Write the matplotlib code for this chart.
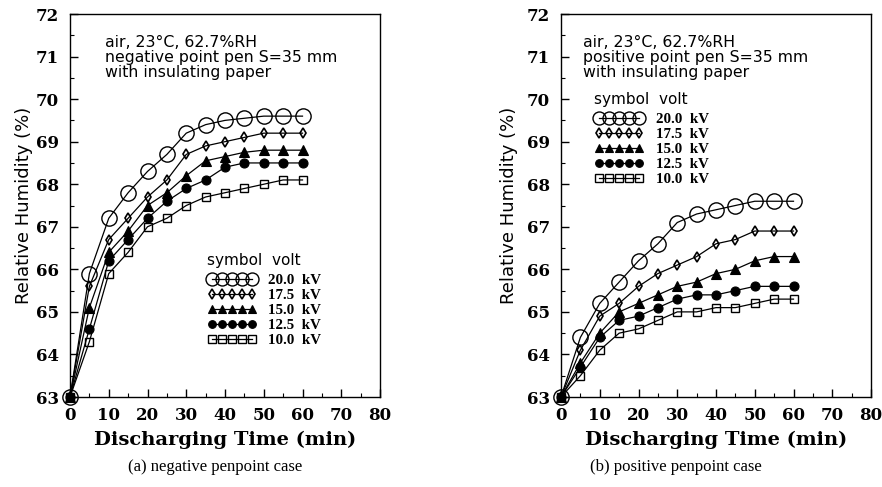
import matplotlib
matplotlib.use("Agg")
import matplotlib.pyplot as plt
from matplotlib.ticker import MultipleLocator

# ---------------- data ----------------
time_min = [0, 5, 10, 15, 20, 25, 30, 35, 40, 45, 50, 55, 60]
voltages = ["20.0", "17.5", "15.0", "12.5", "10.0"]

# (a) negative penpoint
neg_20_0 = [63.0, 65.9, 67.2, 67.8, 68.3, 68.7, 69.2, 69.4, 69.5, 69.55, 69.6, 69.6, 69.6]
neg_17_5 = [63.0, 65.6, 66.7, 67.2, 67.7, 68.1, 68.7, 68.9, 69.0, 69.1, 69.2, 69.2, 69.2]
neg_15_0 = [63.0, 65.1, 66.4, 66.9, 67.5, 67.8, 68.2, 68.55, 68.65, 68.75, 68.8, 68.8, 68.8]
neg_12_5 = [63.0, 64.6, 66.2, 66.7, 67.2, 67.6, 67.9, 68.1, 68.4, 68.5, 68.5, 68.5, 68.5]
neg_10_0 = [63.0, 64.3, 65.9, 66.4, 67.0, 67.2, 67.5, 67.7, 67.8, 67.9, 68.0, 68.1, 68.1]

# (b) positive penpoint
pos_20_0 = [63.0, 64.4, 65.2, 65.7, 66.2, 66.6, 67.1, 67.3, 67.4, 67.5, 67.6, 67.6, 67.6]
pos_17_5 = [63.0, 64.1, 64.9, 65.2, 65.6, 65.9, 66.1, 66.3, 66.6, 66.7, 66.9, 66.9, 66.9]
pos_15_0 = [63.0, 63.8, 64.5, 65.0, 65.2, 65.4, 65.6, 65.7, 65.9, 66.0, 66.2, 66.3, 66.3]
pos_12_5 = [63.0, 63.7, 64.4, 64.8, 64.9, 65.1, 65.3, 65.4, 65.4, 65.5, 65.6, 65.6, 65.6]
pos_10_0 = [63.0, 63.5, 64.1, 64.5, 64.6, 64.8, 65.0, 65.0, 65.1, 65.1, 65.2, 65.3, 65.3]

neg_series = [neg_20_0, neg_17_5, neg_15_0, neg_12_5, neg_10_0]
pos_series = [pos_20_0, pos_17_5, pos_15_0, pos_12_5, pos_10_0]

ann_neg = ["air, 23°C, 62.7%RH", "negative point pen S=35 mm", "with insulating paper"]
ann_pos = ["air, 23°C, 62.7%RH", "positive point pen S=35 mm", "with insulating paper"]
caption_a = "(a) negative penpoint case"
caption_b = "(b) positive penpoint case"

# ---------------- styles ----------------
styles = [
    dict(marker="o", markersize=11, markerfacecolor="none", markeredgewidth=1.0),
    dict(marker="d", markersize=5.5, markerfacecolor="none", markeredgewidth=1.2),
    dict(marker="^", markersize=6.5, markerfacecolor="black", markeredgewidth=0.8),
    dict(marker="o", markersize=6.5, markerfacecolor="black", markeredgewidth=0.8),
    dict(marker="s", markersize=6, markerfacecolor="none", markeredgewidth=1.0),
]

serif_bold = dict(family="DejaVu Serif", weight="bold")
sans = dict(family="DejaVu Sans")

fig = plt.figure(figsize=(8.82, 4.87), dpi=100)
W, H = 882, 487

def make_axes(x0, series, ann, legend_xy, ann_xy, ylab_dx):
    ax = fig.add_axes([x0 / W, (H - 397) / H, 310 / W, 383 / H])
    handles = []
    for vals, st, v in zip(series, styles, voltages):
        h, = ax.plot(time_min, vals, color="black", lw=0.9,
                     markeredgecolor="black", clip_on=False,
                     label=f"{v}  kV", **st)
        handles.append(h)
    ax.set_xlim(0, 80)
    ax.set_ylim(63, 72)
    ax.xaxis.set_major_locator(MultipleLocator(10))
    ax.xaxis.set_minor_locator(MultipleLocator(5))
    ax.yaxis.set_major_locator(MultipleLocator(1))
    ax.yaxis.set_minor_locator(MultipleLocator(0.5))
    ax.tick_params(which="both", direction="in", top=False, right=False)
    ax.tick_params(which="major", length=6, width=1)
    ax.tick_params(axis="x", which="major", pad=7)
    ax.tick_params(axis="y", which="major", pad=8)
    ax.tick_params(which="minor", length=3, width=0.8)
    for lab in ax.get_xticklabels() + ax.get_yticklabels():
        lab.set_fontfamily("DejaVu Serif")
        lab.set_fontweight("bold")
        lab.set_fontsize(12)
    for sp in ax.spines.values():
        sp.set_linewidth(1.0)
    ax.set_xlabel("Discharging Time (min)", fontsize=14, labelpad=5, **serif_bold)
    ax.set_ylabel("Relative Humidity (%)", fontsize=13, **sans)
    ax.yaxis.set_label_coords(ylab_dx / 310, 0.5)
    # annotation
    ax.text(ann_xy[0], ann_xy[1], "\n".join(ann), transform=ax.transAxes,
            fontsize=11.3, va="top", ha="left", linespacing=0.98, **sans)
    leg = ax.legend(handles=handles, numpoints=5, handlelength=3.3,
                    frameon=False, loc="upper left",
                    bbox_to_anchor=legend_xy, borderaxespad=0,
                    labelspacing=0.14, handletextpad=0.8,
                    handleheight=0.5, markerscale=0.85,
                    title="symbol  volt",
                    prop=dict(family="Liberation Serif", weight="bold", size=10.8),
                    title_fontproperties=dict(family="DejaVu Sans", size=11))
    leg._legend_box.align = "left"
    leg._legend_box.sep = 4
    return ax

make_axes(70, neg_series, ann_neg, ((201 - 70) / 310, (397 - 247) / 383),
          (35 / 310, (397 - 35) / 383), -37)
make_axes(561, pos_series, ann_pos, ((588 - 561) / 310, (397 - 86) / 383),
          (22 / 310, (397 - 35) / 383), -43)

fig.text(215 / W, 1 - 467 / H, caption_a, ha="center", va="center",
         fontsize=12, family="Liberation Serif")
fig.text(676 / W, 1 - 467 / H, caption_b, ha="center", va="center",
         fontsize=12, family="Liberation Serif")

fig.savefig("out.png", dpi=100)
